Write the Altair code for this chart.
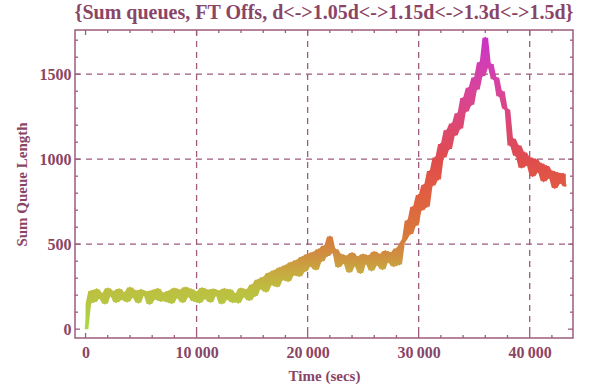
import altair as alt
import pandas as pd

title_text = "{Sum queues,  FT Offs, d<->1.05d<->1.15d<->1.3d<->1.5d}"
x_title = "Time (secs)"
y_title = "Sum Queue Length"

step_secs = 250
queue = [
    0, 150,
    225, 160, 235, 182, 210, 150, 240, 196, 222, 158,
    236, 175, 214, 162, 245, 188, 226, 155, 232, 200,
    220, 148, 228, 178, 238, 165, 212, 163, 224, 152,
    240, 185, 230, 158, 246, 192, 235, 165, 218, 156,
    242, 180, 230, 160, 236, 198, 225, 150, 238, 176,
    232, 158, 208, 155, 240, 190, 232, 170,
    262, 195, 290, 238, 305, 220, 330, 262, 345, 250,
    362, 290, 375, 282, 392, 318, 405, 312, 425, 340,
    440, 372, 452, 350, 470, 400, 490, 430,
    545, 450, 470, 365, 440, 388, 430, 335, 448, 372,
    425, 330, 440, 385, 432, 345, 455, 378, 440, 352,
    460, 395, 450, 370, 475, 380,
    505, 530, 640, 560, 720, 610, 790, 700, 850, 720,
    930, 845, 1010, 880, 1090, 1010, 1170, 1060, 1210, 1140,
    1270, 1180, 1360, 1280, 1420, 1320, 1480, 1410, 1570, 1490,
    1715, 1540, 1560, 1470, 1480, 1370, 1400, 1300, 1290, 1080,
    1120, 1020, 1080, 950, 1040, 965, 1010, 900, 1000, 925,
    975, 870, 960, 890, 930, 830, 920, 860, 915, 840,
]
times = [i * step_secs for i in range(len(queue))]

x_major = [0, 10000, 20000, 30000, 40000]
x_minor = [v for v in range(0, 44000, 2000) if v % 10000 != 0]
y_major = [0, 500, 1000, 1500]
y_minor = [v for v in range(100, 1760, 100) if v % 500 != 0]
grid_x = [10000, 20000, 30000, 40000]
grid_y = [500, 1000, 1500]

x_domain = [-950, 43900]
y_domain = [-52, 1760]

W, H = 498, 308
frame_col = "#9c5c7c"
text_col = "#8a4566"
font = "Liberation Serif"

xs = alt.Scale(domain=x_domain, nice=False, zero=False)
ys = alt.Scale(domain=y_domain, nice=False, zero=False)

x_axis = alt.Axis(values=x_major, grid=False, ticks=False, domain=False,
                  labelExpr="replace(format(datum.value, ','), ',', '\u2009')",
                  labelPadding=6, titlePadding=8)
y_axis = alt.Axis(values=y_major, grid=False, ticks=False, domain=False,
                  format="d", labelPadding=4, titlePadding=10)

df = pd.DataFrame({"t": times, "q": queue})

stops = [
    alt.GradientStop(offset=0.0, color="#a8dc40"),
    alt.GradientStop(offset=0.09, color="#b8c642"),
    alt.GradientStop(offset=0.13, color="#bcc040"),
    alt.GradientStop(offset=0.20, color="#c8a840"),
    alt.GradientStop(offset=0.26, color="#d08c40"),
    alt.GradientStop(offset=0.33, color="#d8783c"),
    alt.GradientStop(offset=0.45, color="#e06040"),
    alt.GradientStop(offset=0.58, color="#e04c4c"),
    alt.GradientStop(offset=0.70, color="#dc4872"),
    alt.GradientStop(offset=0.82, color="#d8449a"),
    alt.GradientStop(offset=0.93, color="#d03cb8"),
    alt.GradientStop(offset=1.0, color="#cc30c8"),
]
grad = alt.Gradient(gradient="linear", x1=0, x2=0, y1=1, y2=0, stops=stops)

band = alt.Chart(df).transform_window(
    lo="min(q)", hi="max(q)", frame=[-1, 1]
).mark_area(fill=grad, opacity=1).encode(
    x=alt.X("t:Q", scale=xs, title=x_title, axis=x_axis),
    y=alt.Y("hi:Q", scale=ys, title=y_title, axis=y_axis),
    y2="lo:Q",
)

line = alt.Chart(df).mark_line(stroke=grad, strokeWidth=1.8, strokeJoin="round").encode(
    x=alt.X("t:Q", scale=xs, title=x_title, axis=x_axis),
    y=alt.Y("q:Q", scale=ys, title=y_title, axis=y_axis),
)

def rules_x(vals, y0, y1, dash=None):
    d = pd.DataFrame({"v": vals})
    kw = dict(color=frame_col, strokeWidth=1.3)
    if dash:
        kw["strokeDash"] = dash
    return alt.Chart(d).mark_rule(**kw).encode(
        x=alt.X("v:Q", scale=xs, title=x_title, axis=x_axis),
        y=alt.value(y0), y2=alt.value(y1))

def rules_y(vals, x0, x1, dash=None):
    d = pd.DataFrame({"v": vals})
    kw = dict(color=frame_col, strokeWidth=1.3)
    if dash:
        kw["strokeDash"] = dash
    return alt.Chart(d).mark_rule(**kw).encode(
        y=alt.Y("v:Q", scale=ys, title=y_title, axis=y_axis),
        x=alt.value(x0), x2=alt.value(x1))

layers = [
    rules_x(grid_x, 0, H, [6, 5]),
    rules_y(grid_y, 0, W, [6, 5]),
    rules_x(x_major, H, H - 5), rules_x(x_minor, H, H - 3),
    rules_x(x_major, 0, 5), rules_x(x_minor, 0, 3),
    rules_y(y_major, 0, 5), rules_y(y_minor, 0, 3),
    rules_y(y_major, W, W - 5), rules_y(y_minor, W, W - 3),
    band,
    line,
]

chart = alt.layer(*layers).properties(
    width=W, height=H,
    background="white",
    title=alt.TitleParams(text=title_text, font=font, fontSize=20, fontWeight="bold",
                          color=text_col, anchor="middle", offset=6),
    autosize=alt.AutoSizeParams(type="none"),
    padding={"left": 75, "top": 30, "right": 21, "bottom": 49},
).configure_view(stroke=frame_col, strokeWidth=1.5).configure_axis(
    labelFont=font, labelFontSize=16, labelFontWeight="bold", labelColor=text_col,
    titleFont=font, titleFontSize=15, titleFontWeight="bold", titleColor=text_col,
)

chart.save("out.html", embed_options={"renderer": "svg", "actions": False})
